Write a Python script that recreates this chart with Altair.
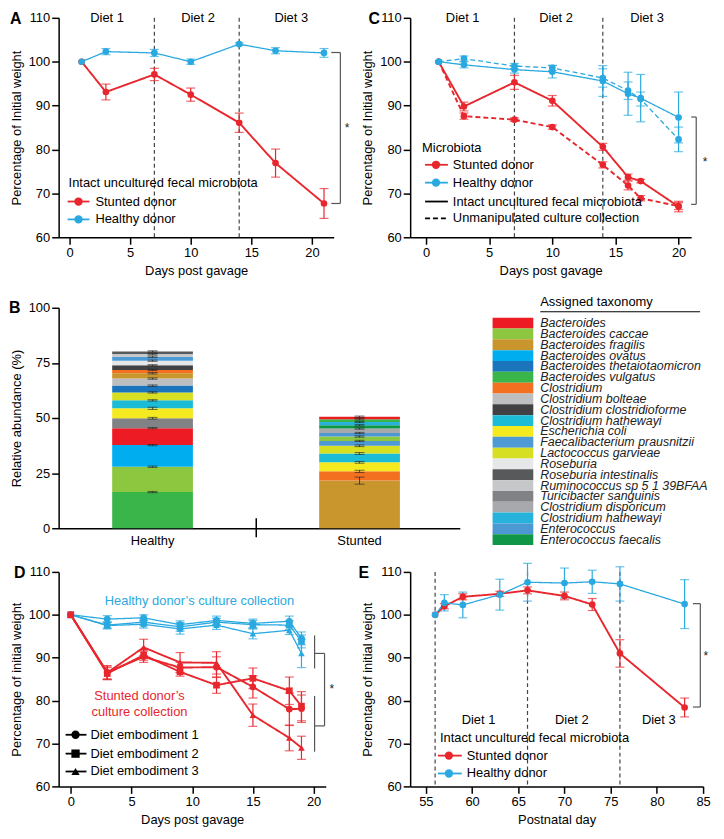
import altair as alt
import pandas as pd

FONT = "Liberation Sans"
RED = "#e8262d"
BLUE = "#29a9e0"
INK = "#222222"
DASHC = "#444444"
BRK = "#555555"

# ---------------- Panel A ----------------
a_days = [1, 3, 7, 10, 14, 17, 21]
a_stunted = [100.0, 93.1, 97.1, 92.5, 86.1, 76.9, 67.7]
a_stunted_err = [0.0, 1.8, 1.4, 1.5, 2.2, 3.2, 3.4]
a_healthy = [100.0, 102.3, 102.0, 100.0, 104.0, 102.5, 102.0]
a_healthy_err = [0.0, 0.7, 0.8, 0.6, 0.3, 0.7, 1.0]
a_diet_breaks = [7, 14]
a_diet_x = [3.1, 10.6, 18.3]
diet_labels = ["Diet 1", "Diet 2", "Diet 3"]

# ---------------- Panel C ----------------
c_days = [1, 3, 7, 10, 14, 16, 17, 20]
c_stunted_intact = [100.0, 89.8, 95.3, 91.1, 80.6, 73.7, 72.8, 67.0]
c_stunted_intact_err = [0.0, 1.0, 1.6, 1.2, 0.8, 0.7, 0.4, 1.2]
c_stunted_culture = [100.0, 87.6, 86.8, 85.1, 76.5, 71.8, 68.9, 67.1]
c_stunted_culture_err = [0.0, 0.7, 0.4, 0.5, 0.7, 1.0, 0.6, 0.8]
c_healthy_intact = [100.0, 99.3, 98.2, 97.7, 95.6, 92.7, 91.7, 87.3]
c_healthy_intact_err = [0.0, 0.7, 0.8, 1.4, 3.5, 4.9, 5.4, 5.8]
c_healthy_culture = [100.0, 100.7, 99.0, 98.6, 96.3, 93.4, 91.5, 82.3]
c_healthy_culture_err = [0.0, 0.6, 0.6, 0.6, 2.1, 2.0, 1.6, 2.8]
c_diet_breaks = [7, 14]
c_diet_x = [2.9, 10.3, 17.5]

# ---------------- Panel D ----------------
d_days = [0, 3, 6, 9, 12, 15, 18, 19]
d_healthy_1 = [100.0, 99.0, 99.3, 97.7, 98.7, 98.0, 98.5, 94.5]
d_healthy_1_err = [0.0, 0.8, 0.7, 0.9, 1.0, 1.0, 1.2, 1.5]
d_healthy_2 = [100.0, 97.6, 98.3, 97.2, 98.3, 97.7, 97.6, 93.8]
d_healthy_2_err = [0.0, 0.7, 0.8, 1.0, 0.9, 1.0, 1.0, 1.5]
d_healthy_3 = [100.0, 97.5, 97.8, 96.7, 97.6, 95.6, 96.4, 91.0]
d_healthy_3_err = [0.0, 0.8, 0.9, 1.2, 1.0, 1.2, 1.0, 3.3]
d_stunted_1 = [100.0, 86.6, 90.2, 87.7, 87.8, 83.2, 78.0, 78.1]
d_stunted_1_err = [0.0, 1.5, 1.3, 1.2, 2.4, 2.6, 3.8, 3.2]
d_stunted_2 = [100.0, 86.3, 90.6, 86.7, 83.6, 85.2, 82.3, 78.7]
d_stunted_2_err = [0.0, 1.4, 1.2, 1.0, 1.9, 2.4, 3.2, 3.4]
d_stunted_3 = [100.0, 86.5, 92.4, 88.9, 88.8, 76.6, 71.3, 69.0]
d_stunted_3_err = [0.0, 1.6, 1.9, 2.3, 2.6, 2.6, 3.0, 2.7]

# ---------------- Panel E ----------------
e_days = [56, 57, 59, 63, 66, 70, 73, 76, 83]
e_stunted = [100.0, 102.0, 104.2, 104.9, 105.7, 104.4, 102.4, 91.0, 78.4]
e_stunted_err = [0.0, 0.6, 0.7, 0.6, 0.8, 0.9, 1.4, 3.2, 2.2]
e_healthy = [100.0, 102.8, 102.3, 104.7, 107.6, 107.4, 107.7, 107.2, 102.5]
e_healthy_err = [0.0, 1.9, 3.0, 3.6, 4.4, 3.5, 2.7, 4.0, 5.7]
e_diet_breaks = [56, 66, 76]
e_diet_x = [60.7, 70.8, 80.2]

# ---------------- Panel B ----------------
b_groups = ["Healthy", "Stunted"]
taxa_names = [
    "Bacteroides", "Bacteroides caccae", "Bacteroides fragilis", "Bacteroides ovatus",
    "Bacteroides thetaiotaomicron", "Bacteroides vulgatus", "Clostridium",
    "Clostridium bolteae", "Clostridium clostridioforme", "Clostridium hathewayi",
    "Escherichia coli", "Faecalibacterium prausnitzii", "Lactococcus garvieae",
    "Roseburia", "Roseburia intestinalis", "Ruminococcus sp 5 1 39BFAA",
    "Turicibacter sanguinis", "Clostridium disporicum", "Clostridium hathewayi",
    "Enterococcus", "Enterococcus faecalis",
]
taxa_colors = [
    "#ed1c24", "#8dc63f", "#c9962e", "#00aeef", "#1b75bc", "#3ab54a", "#f37021",
    "#bcbec0", "#414042", "#1cbcd6", "#f5ea1f", "#4d9ad5", "#d7df23", "#e6e7e8",
    "#58595b", "#c5c7c9", "#808285", "#a7a9ac", "#27b2dc", "#4b98d2", "#0f9747",
]
taxa_keys = ["t%02d" % i for i in range(len(taxa_names))]
healthy_taxa = [5, 1, 3, 0, 16, 10, 9, 12, 4, 7, 2, 6, 8, 13, 11, 15, 14]
healthy_vals = [16.4, 11.5, 9.8, 7.7, 4.5, 4.5, 3.6, 3.6, 3.1, 3.2, 2.4, 1.5, 2.1, 2.1, 1.8, 1.2, 1.2]
healthy_err = [0.3, 0.3, 0.3, 0.3, 0.4, 0.5, 0.3, 0.3, 0.3, 0.3, 0.3, 0.3, 0.3, 0.3, 0.3, 0.3, 0.3]
stunted_taxa = [2, 6, 10, 9, 12, 11, 1, 19, 17, 20, 18, 5, 0]
stunted_vals = [21.6, 4.2, 4.1, 4.0, 3.5, 2.2, 2.0, 1.6, 2.0, 1.5, 1.5, 1.2, 1.2]
stunted_err = [1.6, 0.5, 0.4, 0.4, 0.4, 0.3, 0.3, 0.3, 0.3, 0.3, 0.3, 0.3, 0.3]

# ================= helpers =================
COLOR = alt.Color("series:N", scale=alt.Scale(domain=["Stunted", "Healthy"], range=[RED, BLUE]), legend=None)
DASH = alt.StrokeDash("kind:N", scale=alt.Scale(domain=["Intact", "Culture"], range=[[1, 0], [5, 3]]), legend=None)
SHAPE = alt.Shape("emb:N", scale=alt.Scale(domain=["1", "2", "3"], range=["circle", "square", "triangle-up"]), legend=None)
SWIDTH = alt.StrokeWidth("series:N", scale=alt.Scale(domain=["Stunted", "Healthy"], range=[1.9, 1.3]), legend=None)
FILL = alt.Fill("taxon:N", scale=alt.Scale(domain=taxa_keys, range=taxa_colors), legend=None)
ONE = pd.DataFrame({"label": ["x"]})
LETTER_SIZE = 16


def frame(xs, ys, errs, series, kind="Intact", emb="1"):
    df = pd.DataFrame({"x": xs, "y": ys, "err": errs})
    df["series"] = series
    df["kind"] = kind
    df["emb"] = emb
    df["lo"] = df["y"] - df["err"]
    df["hi"] = df["y"] + df["err"]
    return df


def text_at(label, x, y, size=13, weight="normal", color="black", align="left", style="normal"):
    return alt.Chart(pd.DataFrame({"label": [label]})).mark_text(
        align=align, baseline="middle", fontSize=size, fontWeight=weight, font=FONT,
        color=color, fontStyle=style
    ).encode(x=alt.value(x), y=alt.value(y), text="label:N")


def legend_row(y, x0, x1, xm, xt, label, color, shape="circle", dash=None, marker=True):
    kw = dict(color=color, strokeWidth=1.8)
    if dash:
        kw["strokeDash"] = dash
    out = [alt.Chart(ONE).mark_rule(**kw).encode(x=alt.value(x0), x2=alt.value(x1), y=alt.value(y))]
    if marker:
        out.append(alt.Chart(ONE).mark_point(filled=True, opacity=1, size=70, shape=shape, color=color)
                   .encode(x=alt.value(xm), y=alt.value(y)))
    out.append(text_at(label, xt, y))
    return out


def weight_panel(df, xdom, xticks, w, h, xtitle, ytitle, breaks, diet_df, brackets, star, extras):
    xs = alt.Scale(domain=xdom, nice=False, zero=False)
    ys = alt.Scale(domain=[60, 110], nice=False, zero=False)
    xax = alt.Axis(values=xticks, title=xtitle)
    yax = alt.Axis(values=[60, 70, 80, 90, 100, 110], title=ytitle)

    def X(f):
        return alt.X(f + ":Q", scale=xs, axis=xax)

    def Y(f):
        return alt.Y(f + ":Q", scale=ys, axis=yax)

    layers = []
    if breaks:
        layers.append(alt.Chart(pd.DataFrame({"x": breaks})).mark_rule(
            color=DASHC, strokeWidth=1.2, strokeDash=[4, 3]).encode(x=X("x"), y=alt.value(0), y2=alt.value(h)))
    if diet_df is not None:
        layers.append(alt.Chart(diet_df).mark_text(fontSize=13, font=FONT, color="black", baseline="middle")
                      .encode(x=X("x"), y=Y("y"), text="label:N"))
    base = alt.Chart(df)
    errs = base.transform_filter("datum.err > 0")
    layers.append(errs.mark_rule(strokeWidth=1.2).encode(x=X("x"), y=Y("lo"), y2=alt.Y2("hi"), color=COLOR))
    for f in ("lo", "hi"):
        layers.append(errs.mark_tick(orient="horizontal", size=9, thickness=1.2)
                      .encode(x=X("x"), y=Y(f), color=COLOR))
    layers.append(base.mark_line().encode(x=X("x"), y=Y("y"), color=COLOR, strokeDash=DASH,
                                          strokeWidth=SWIDTH, detail=["kind:N", "emb:N"]))
    layers.append(base.mark_point(filled=True, opacity=1, size=45).encode(
        x=X("x"), y=Y("y"), color=COLOR, shape=SHAPE))
    layers.append(alt.Chart(brackets).mark_rule(color=BRK, strokeWidth=1.2).encode(
        x=X("x"), x2=alt.X2("x2"), y=Y("y"), y2=alt.Y2("y2")))
    layers.append(alt.Chart(star).mark_text(fontSize=12, font=FONT, color=INK, baseline="middle")
                  .encode(x=X("x"), y=Y("y"), text="label:N"))
    layers.extend(extras)
    return alt.layer(*layers).properties(width=w, height=h)


# ================= Panel A =================
dfA = pd.concat([frame(a_days, a_stunted, a_stunted_err, "Stunted"),
                 frame(a_days, a_healthy, a_healthy_err, "Healthy")])
dietA = pd.DataFrame({"x": a_diet_x, "y": [110] * 3, "label": diet_labels})
brA = pd.DataFrame({"x": [21.6, 21.6, 22.35], "x2": [22.35, 22.35, 22.35],
                    "y": [102.1, 67.7, 102.1], "y2": [102.1, 67.7, 67.7]})
starA = pd.DataFrame({"x": [22.9], "y": [84.9], "label": ["*"]})
extrasA = [text_at("Intact uncultured fecal microbiota", 10, 166)]
extrasA += legend_row(185, 9, 31, 20, 37, "Stunted donor", RED)
extrasA += legend_row(203, 9, 31, 20, 37, "Healthy donor", BLUE)
extrasA.append(text_at("A", -49, 1.5, size=LETTER_SIZE, weight="bold"))
panelA = weight_panel(dfA, [-0.9, 21.8], [0, 5, 10, 15, 20], 277, 221, "Days post gavage",
                      "Percentage of Initial weight", a_diet_breaks, dietA, brA, starA, extrasA)

# ================= Panel C =================
dfC = pd.concat([
    frame(c_days, c_stunted_intact, c_stunted_intact_err, "Stunted", "Intact"),
    frame(c_days, c_stunted_culture, c_stunted_culture_err, "Stunted", "Culture"),
    frame(c_days, c_healthy_intact, c_healthy_intact_err, "Healthy", "Intact"),
    frame(c_days, c_healthy_culture, c_healthy_culture_err, "Healthy", "Culture"),
])
dietC = pd.DataFrame({"x": c_diet_x, "y": [110] * 3, "label": diet_labels})
brC = pd.DataFrame({"x": [21.0, 21.0, 21.4], "x2": [21.4, 21.4, 21.4],
                    "y": [87.4, 67.5, 87.4], "y2": [87.4, 67.5, 67.5]})
starC = pd.DataFrame({"x": [22.1], "y": [77.2], "label": ["*"]})
extrasC = [text_at("Microbiota", 12, 131)]
extrasC += legend_row(148, 15, 38, 26, 43, "Stunted donor", RED)
extrasC += legend_row(166, 15, 38, 26, 43, "Healthy donor", BLUE)
extrasC += legend_row(185, 15, 38, 26, 43, "Intact uncultured fecal microbiota", "black", marker=False)
extrasC += legend_row(202, 15, 38, 26, 43, "Unmanipulated culture collection", "black", dash=[5, 3], marker=False)
extrasC.append(text_at("C", -42, 1.5, size=LETTER_SIZE, weight="bold"))
panelC = weight_panel(dfC, [-1.26, 21.0], [0, 5, 10, 15, 20], 283, 221, "Days post gavage",
                      "Percentage of Initial weight", c_diet_breaks, dietC, brC, starC, extrasC)

# ================= Panel D =================
dfD = pd.concat([
    frame(d_days, d_healthy_1, d_healthy_1_err, "Healthy", emb="1"),
    frame(d_days, d_healthy_2, d_healthy_2_err, "Healthy", emb="2"),
    frame(d_days, d_healthy_3, d_healthy_3_err, "Healthy", emb="3"),
    frame(d_days, d_stunted_1, d_stunted_1_err, "Stunted", emb="1"),
    frame(d_days, d_stunted_2, d_stunted_2_err, "Stunted", emb="2"),
    frame(d_days, d_stunted_3, d_stunted_3_err, "Stunted", emb="3"),
])
brD = pd.DataFrame({"x": [20.08, 20.08, 20.08, 20.08, 20.9],
                    "x2": [20.08, 20.9, 20.08, 20.9, 20.9],
                    "y": [95.2, 91.0, 81.1, 74.1, 91.0],
                    "y2": [87.5, 91.0, 68.1, 74.1, 74.1]})
starD = pd.DataFrame({"x": [21.5], "y": [82.7], "label": ["*"]})
annD_blue = pd.DataFrame({"x": [10.6], "y": [103.3], "label": ["Healthy donor\u2019s culture collection"]})
annD_red = pd.DataFrame({"x": [5.66, 5.66], "y": [81.1, 77.4], "label": ["Stunted donor\u2019s", "culture collection"]})
dxs = alt.Scale(domain=[-1, 21], nice=False, zero=False)
dys = alt.Scale(domain=[60, 110], nice=False, zero=False)
dxa = alt.Axis(values=[0, 5, 10, 15, 20], title="Days post gavage")
dya = alt.Axis(values=[60, 70, 80, 90, 100, 110], title="Percentage of initial weight")
extrasD = [
    alt.Chart(annD_blue).mark_text(fontSize=13, font=FONT, color=BLUE, baseline="middle").encode(
        x=alt.X("x:Q", scale=dxs, axis=dxa), y=alt.Y("y:Q", scale=dys, axis=dya), text="label:N"),
    alt.Chart(annD_red).mark_text(fontSize=13, font=FONT, color=RED, baseline="middle").encode(
        x=alt.X("x:Q", scale=dxs, axis=dxa), y=alt.Y("y:Q", scale=dys, axis=dya), text="label:N"),
]
extrasD += legend_row(164, 7, 28, 17, 32, "Diet embodiment 1", "black", shape="circle")
extrasD += legend_row(183, 7, 28, 17, 32, "Diet embodiment 2", "black", shape="square")
extrasD += legend_row(201, 7, 28, 17, 32, "Diet embodiment 3", "black", shape="triangle-up")
extrasD.append(text_at("D", -45, 1.5, size=LETTER_SIZE, weight="bold"))
panelD = weight_panel(dfD, [-1, 21], [0, 5, 10, 15, 20], 269, 216, "Days post gavage",
                      "Percentage of initial weight", None, None, brD, starD, extrasD)

# ================= Panel E =================
dfE = pd.concat([frame(e_days, e_stunted, e_stunted_err, "Stunted"),
                 frame(e_days, e_healthy, e_healthy_err, "Healthy")])
dietE = pd.DataFrame({"x": e_diet_x, "y": [75.5] * 3, "label": diet_labels})
brE = pd.DataFrame({"x": [83.9, 83.9, 84.7], "x2": [84.7, 84.7, 84.7],
                    "y": [102.6, 78.5, 102.6], "y2": [102.6, 78.5, 78.5]})
starE = pd.DataFrame({"x": [85.3], "y": [90.3], "label": ["*"]})
extrasE = [text_at("Intact uncultured fecal microbiota", 30, 167)]
extrasE += legend_row(185, 28, 52, 39, 57, "Stunted donor", RED)
extrasE += legend_row(203, 28, 52, 39, 57, "Healthy donor", BLUE)
extrasE.append(text_at("E", -52, 1.5, size=LETTER_SIZE, weight="bold"))
panelE = weight_panel(dfE, [53.3, 85], [55, 60, 65, 70, 75, 80, 85], 295, 216, "Postnatal day",
                      "Percentage of initial weight", e_diet_breaks, dietE, brE, starE, extrasE)


# ================= Panel B =================
def stack_frame(group, idx, vals, errs):
    df = pd.DataFrame({"taxon": [taxa_keys[i] for i in idx], "v": vals, "err": errs})
    df["group"] = group
    df["hi"] = df["v"].cumsum()
    df["lo"] = df["hi"] - df["v"]
    df["elo"] = df["hi"] - df["err"]
    df["ehi"] = df["hi"] + df["err"]
    return df


dfB = pd.concat([stack_frame("Healthy", healthy_taxa, healthy_vals, healthy_err),
                 stack_frame("Stunted", stunted_taxa, stunted_vals, stunted_err)])
bxs = alt.Scale(domain=b_groups, paddingInner=0.61, paddingOuter=0.274, align=0.472)
bxa = alt.Axis(title=None, ticks=False, labelAngle=0, labelPadding=6)
bys = alt.Scale(domain=[0, 100], nice=False)
bya = alt.Axis(values=[0, 25, 50, 75, 100], title="Relative abundance (%)")
BX = alt.X("group:N", scale=bxs, axis=bxa)
bars = alt.Chart(dfB).mark_bar().encode(x=BX, y=alt.Y("lo:Q", scale=bys, axis=bya), y2=alt.Y2("hi"), fill=FILL)
b_err = alt.Chart(dfB).mark_rule(color=INK, strokeWidth=0.8).encode(
    x=BX, y=alt.Y("elo:Q", scale=bys, axis=bya), y2=alt.Y2("ehi"))
b_cap1 = alt.Chart(dfB).mark_tick(orient="horizontal", size=10, thickness=0.9, color=INK).encode(
    x=BX, y=alt.Y("elo:Q", scale=bys, axis=bya))
b_cap2 = alt.Chart(dfB).mark_tick(orient="horizontal", size=10, thickness=0.9, color=INK).encode(
    x=BX, y=alt.Y("ehi:Q", scale=bys, axis=bya))
divider = alt.Chart(ONE).mark_rule(color="black", strokeWidth=1.5).encode(
    x=alt.value(199), y=alt.value(212), y2=alt.value(231))
panelB = alt.layer(bars, b_err, b_cap1, b_cap2, divider,
                   text_at("B", -50, 0, size=LETTER_SIZE, weight="bold")).properties(width=404, height=222)

# legend panel for B
ldf = pd.DataFrame({"taxon": taxa_keys, "name": taxa_names, "row": list(range(len(taxa_names)))})
ldf["lo"] = ldf["row"]
ldf["hi"] = ldf["row"] + 1
ldf["mid"] = ldf["row"] + 0.5
lys = alt.Scale(domain=[0, 21], range=[10, 239], nice=False, zero=False)
sw = alt.Chart(ldf).mark_rect().encode(
    x=alt.value(15), x2=alt.value(56), y=alt.Y("lo:Q", scale=lys, axis=None), y2=alt.Y2("hi"), fill=FILL)
lt = alt.Chart(ldf).mark_text(align="left", baseline="middle", fontSize=12.5, fontStyle="italic",
                              font=FONT, color="#222").encode(
    x=alt.value(63), y=alt.Y("mid:Q", scale=lys, axis=None), text="name:N")
ltitle = text_at("Assigned taxonomy", 63, -6)
lline = alt.Chart(ONE).mark_rule(color="black", strokeWidth=1).encode(
    x=alt.value(63), x2=alt.value(224), y=alt.value(4))
panelL = alt.layer(sw, lt, ltitle, lline).properties(width=240, height=222)

# ================= assemble =================
row1 = alt.hconcat(panelA, panelC, spacing=77, bounds="flush")
row2 = alt.hconcat(panelB, panelL, spacing=18, bounds="flush")
row3 = alt.hconcat(panelD, panelE, spacing=85, bounds="flush")
upper = alt.vconcat(row1, row2, spacing=19)
chart = alt.vconcat(upper, row3, spacing=15).properties(
    padding={"left": 1, "top": 0, "right": 0, "bottom": 0}
).configure(font=FONT).configure_view(stroke=None).configure_axis(
    labelFont=FONT, titleFont=FONT, labelFontSize=13, titleFontSize=13, titleFontWeight="normal",
    labelColor="black", titleColor="black", domainColor="black", tickColor="black",
    domainWidth=1.5, tickWidth=1.5, tickSize=7, labelPadding=2, titlePadding=5,
    grid=False, labelFlush=False, labelOverlap=False
)

chart.save("out.html", embed_options={"renderer": "svg", "actions": False})
